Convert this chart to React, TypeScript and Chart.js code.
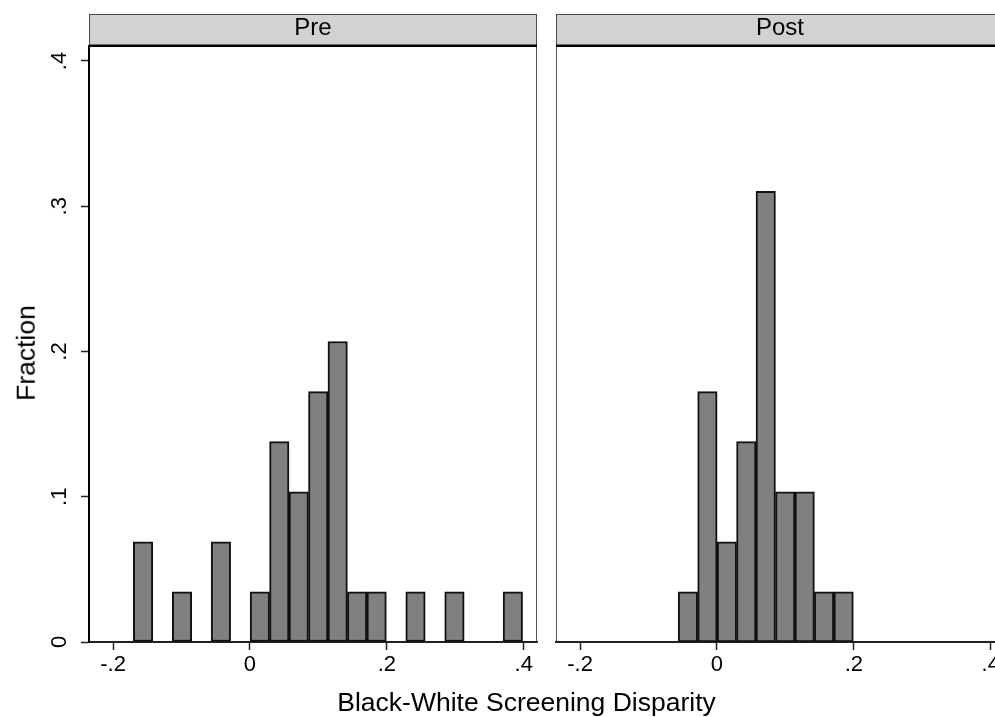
import React, { useEffect, useRef } from 'react';
import { Chart, registerables } from 'chart.js';

Chart.register(...registerables);

// ---- data ----
const binMid = [-0.1562, -0.1278, -0.0993, -0.0709, -0.0425, -0.014, 0.0144, 0.0428, 0.0712, 0.0997, 0.1281, 0.1565, 0.185, 0.2134, 0.2418, 0.2703, 0.2987, 0.3271, 0.3556, 0.384];
const preFraction = [0.069, 0, 0.0345, 0, 0.069, 0, 0.0345, 0.1379, 0.1034, 0.1724, 0.2069, 0.0345, 0.0345, 0, 0.0345, 0, 0.0345, 0, 0, 0.0345];
const postFraction = [0, 0, 0, 0, 0.0345, 0.1724, 0.069, 0.1379, 0.3103, 0.1034, 0.1034, 0.0345, 0.0345, 0, 0, 0, 0, 0, 0, 0];
const panelTitles = ['Pre', 'Post'];
const xTicks = [-0.2, 0, 0.2, 0.4];
const xTickLabels = ['-.2', '0', '.2', '.4'];
const yTicks = [0, 0.1, 0.2, 0.3, 0.4];
const yTickLabels = ['0', '.1', '.2', '.3', '.4'];
const xRange = [-0.2352, 0.4193];
const yRange = [0, 0.4103];
const xTitle = 'Black-White Screening Disparity';
const yTitle = 'Fraction';

const FONT = '"Liberation Sans", Arial, Helvetica, sans-serif';

const stripPlugin = {
  id: 'strip',
  beforeDraw(chart: any, _args: any, opts: any) {
    const { ctx, chartArea: a } = chart;
    const top = opts.top;
    ctx.save();
    ctx.fillStyle = '#d2d2d2';
    ctx.fillRect(a.left, top, a.right - a.left, a.top - top);
    ctx.strokeStyle = '#4a4a4a';
    ctx.lineWidth = 1;
    ctx.strokeRect(a.left + 0.5, top + 0.5, a.right - a.left - 1, a.top - top);
    ctx.strokeStyle = '#555555';
    ctx.beginPath();
    if (opts.frameLeft) {
      ctx.moveTo(a.left + 0.5, a.top);
      ctx.lineTo(a.left + 0.5, a.bottom);
    }
    ctx.moveTo(a.right - 0.5, a.top);
    ctx.lineTo(a.right - 0.5, a.bottom);
    ctx.stroke();
    ctx.fillStyle = '#000000';
    ctx.fillRect(a.left, a.top - 1.5, a.right - a.left, 2.5);
    ctx.restore();
  },
};

function Panel(props: { idx: number; values: number[]; showY: boolean; left: number; width: number; padLeft: number; padRight: number }) {
  const ref = useRef<HTMLCanvasElement>(null);
  useEffect(() => {
    if (!ref.current) return;
    const data = binMid.map((x, i) => ({ x, y: props.values[i] })).filter((p) => p.y > 0);
    const chart = new Chart(ref.current, {
      type: 'bar',
      data: {
        datasets: [
          {
            label: panelTitles[props.idx],
            data,
            backgroundColor: '#808080',
            borderColor: '#111111',
            borderWidth: 2,
            borderSkipped: false,
            barPercentage: 1,
            categoryPercentage: 1,
          } as any,
        ],
      },
      plugins: [stripPlugin],
      options: {
        animation: false,
        responsive: false,
        events: [],
        layout: { padding: { top: 14, left: props.padLeft, right: props.padRight, bottom: 0 } },
        plugins: {
          legend: { display: false },
          tooltip: { enabled: false },
          title: {
            display: true,
            text: panelTitles[props.idx],
            fullSize: false,
            color: '#000',
            font: { family: FONT, size: 24, weight: 'normal', lineHeight: '29px' },
            padding: { top: 0, bottom: 3 },
          },
          strip: { top: 14, frameLeft: !props.showY },
        } as any,
        scales: {
          x: {
            type: 'linear',
            position: 'bottom',
            min: xRange[0],
            max: xRange[1],
            offset: false,
            z: 1,
            afterBuildTicks: (s: any) => {
              s.ticks = xTicks.map((v) => ({ value: v }));
            },
            afterFit: (s: any) => {
              s.height = 75;
            },
            ticks: {
              callback: (_v: any, i: number) => xTickLabels[i],
              color: '#000',
              font: { family: FONT, size: 22 },
              padding: 1.5,
              maxRotation: 0,
              minRotation: 0,
              autoSkip: false,
            },
            grid: {
              display: true,
              drawOnChartArea: false,
              offset: false,
              tickLength: 8,
              tickWidth: 1.5,
              tickColor: '#222',
              color: '#222',
            },
            border: { display: true, color: '#222', width: 2 },
          } as any,
          y: {
            type: 'linear',
            position: 'left',
            display: props.showY,
            min: yRange[0],
            max: yRange[1],
            afterBuildTicks: (s: any) => {
              s.ticks = yTicks.map((v) => ({ value: v }));
            },
            afterFit: (s: any) => {
              s.width = props.showY ? 89 : 0;
            },
            ticks: {
              callback: (_v: any, i: number) => yTickLabels[i],
              color: '#000',
              font: { family: FONT, size: 22 },
              padding: 12,
              minRotation: 90,
              maxRotation: 90,
              crossAlign: 'center',
              autoSkip: false,
            },
            grid: {
              display: true,
              drawOnChartArea: false,
              tickLength: 8,
              tickWidth: 1.5,
              tickColor: '#222',
              color: '#222',
            },
            border: { display: true, color: '#000', width: 2 },
          } as any,
        },
      },
    });
    return () => chart.destroy();
  }, []);
  return (
    <canvas
      ref={ref}
      width={props.width}
      height={717}
      style={{ position: 'absolute', left: props.left, top: 0, width: props.width, height: 717 }}
    />
  );
}

export default function App() {
  return (
    <div
      style={{
        position: 'fixed',
        left: 0,
        top: 0,
        width: 995,
        height: 717,
        overflow: 'hidden',
        background: '#ffffff',
        fontFamily: FONT,
      }}
    >
      <Panel idx={0} values={preFraction} showY={true} left={0} width={546} padLeft={0} padRight={9} />
      <Panel idx={1} values={postFraction} showY={false} left={546} width={467} padLeft={10} padRight={9} />
      <div
        style={{
          position: 'absolute',
          left: 526.5,
          top: 701.5,
          transform: 'translate(-50%, -50%)',
          fontSize: 26.5,
          lineHeight: '26.5px',
          whiteSpace: 'nowrap',
          color: '#000',
        }}
      >
        {xTitle}
      </div>
      <div
        style={{
          position: 'absolute',
          left: 26,
          top: 353,
          transform: 'translate(-50%, -50%) rotate(-90deg)',
          fontSize: 26.5,
          lineHeight: '26.5px',
          whiteSpace: 'nowrap',
          color: '#000',
        }}
      >
        {yTitle}
      </div>
    </div>
  );
}
